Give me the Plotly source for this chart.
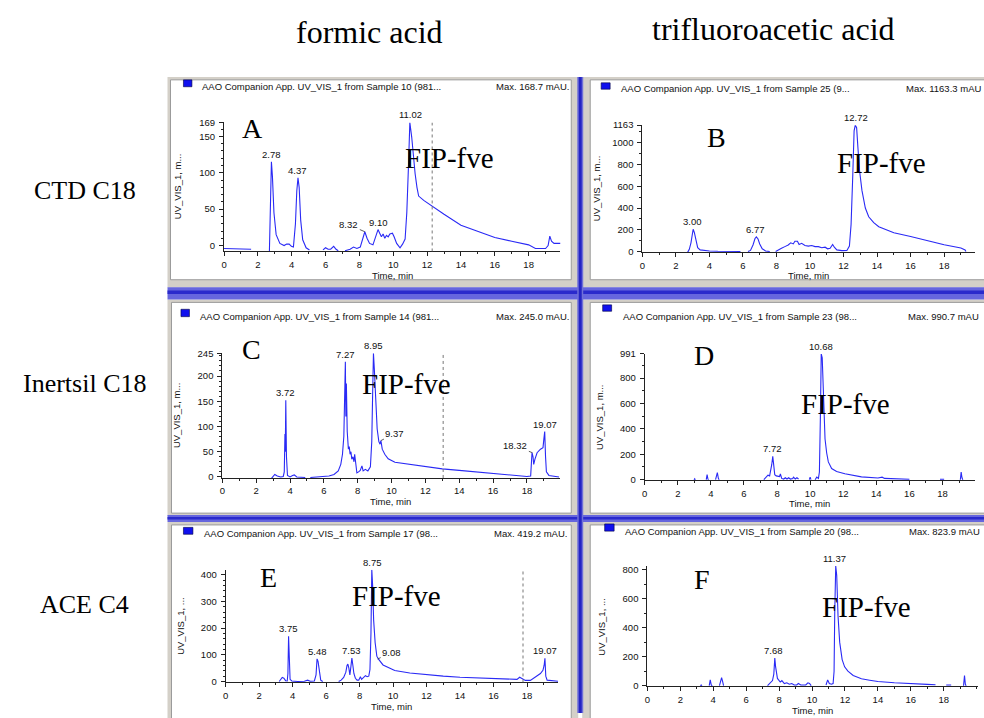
import plotly.graph_objects as go

W, H = 984, 718
SANS = "Liberation Sans, Arial, sans-serif"
SERIF = "Liberation Serif, Times New Roman, serif"
TRACE = "#2a2af5"

# ---------------- data ----------------
column_titles = ["formic acid", "trifluoroacetic acid"]
row_labels = ["CTD C18", "Inertsil C18", "ACE C4"]
panel_letters = ["A", "B", "C", "D", "E", "F"]
sample_ids = ["10 (981...", "25 (9...", "14 (981...", "23 (98...", "17 (98...", "20 (98..."]
max_text = ["Max. 168.7 mAU.", "Max. 1163.3 mAU", "Max. 245.0 mAU.",
            "Max. 990.7 mAU", "Max. 419.2 mAU.", "Max. 823.9 mAU"]
x_ticks = [0, 2, 4, 6, 8, 10, 12, 14, 16, 18]
a_yticks = [0, 50, 100, 150, 169]
b_yticks = [0, 200, 400, 600, 800, 1000, 1163]
c_yticks = [0, 50, 100, 150, 200, 245]
d_yticks = [0, 200, 400, 600, 800, 991]
e_yticks = [0, 100, 200, 300, 400]
f_yticks = [0, 200, 400, 600, 800]

a_time = [0.0, 0.8, 1.6, None, 2.68, 2.72, 2.76, 2.80, 2.86, 2.95,
          3.08, 3.30, 3.55, 3.70, 3.85, 3.98, 4.10, 4.22, 4.30, 4.37,
          4.44, 4.53, 4.65, 4.85, 5.05, None, 5.85, 6.00, 6.15, 6.30,
          6.48, 6.62, 6.75, None, 7.15, 7.45, 7.65, 7.85, 8.05, 8.20,
          8.32, 8.45, 8.60, 8.80, 8.95, 9.10, 9.20, 9.30, 9.40, 9.50,
          9.60, 9.70, 9.80, 9.95, 10.05, 10.20, 10.40, 10.55, 10.70, 10.80,
          10.90, 10.98, 11.09, 11.20, 11.29, 11.40, 11.50, 11.80, 12.10, 12.40,
          13.00, 14.00, 15.00, 16.00, 17.00, 18.00, 18.40, 19.00, 19.15, 19.25,
          19.35, 19.50, 19.90]
a_mau = [-4, -4, -5, None, -9, 40, 112, 115, 95, 45,
         15, 3, 0, 2, 2, -1, -2, 30, 75, 93,
         80, 35, 8, -3, -6, None, -6, -3, -5, -5,
         -1, -5, -7, None, -7, -5, -2, -4, -2, 10,
         19, 10, 3, 1, 12, 22, 17, 12, 16, 10,
         14, 12, 16, 17, 12, 3, -3, 2, 9, 45,
         110, 169, 149, 120, 99, 80, 68, 62, 57, 52,
         43, 28, 19, 11, 6, 1, -4, -4, 0, 13,
         6, 3, 3]

b_time = [2.70, 2.80, 2.90, 2.97, 3.03, 3.10, 3.20, 3.30, 3.45, 3.70,
          4.00, 4.50, 5.00, 5.50, 5.85, None, 6.30, 6.45, 6.60, 6.72,
          6.80, 6.90, 7.00, 7.15, 7.35, 7.60, None, 7.95, 8.10, 8.30,
          8.50, 8.70, 8.85, 9.00, 9.10, 9.25, 9.35, 9.50, 9.70, 9.90,
          10.10, 10.30, 10.50, 10.70, 10.90, 11.05, 11.20, 11.35, 11.45, 11.60,
          11.90, 12.20, 12.35, 12.45, 12.55, 12.63, 12.70, 12.78, 12.86, 12.95,
          13.10, 13.30, 13.50, 13.80, 14.10, 15.00, 16.00, 17.00, 18.00, 19.00,
          19.25, 19.30]
b_mau = [-8, 20, 80, 180, 205, 175, 90, 35, 15, 8,
         5, 2, 1, 0, 0, None, 0, 10, 60, 120,
         135, 115, 70, 25, 5, 0, None, 0, 15, 30,
         45, 60, 80, 70, 95, 95, 65, 75, 55, 50,
         55, 45, 45, 35, 40, 25, 30, 65, 40, 15,
         8, 10, 50, 250, 700, 1110, 1163, 1140, 950, 750,
         560, 400, 320, 265, 228, 172, 138, 100, 62, 32,
         15, 0]

c_time = [2.90, 3.00, 3.10, 3.25, 3.45, 3.60, 3.66, 3.70, 3.72, 3.75,
          3.79, 3.85, 4.00, 4.15, 4.25, 4.40, 4.90, None, 5.20, 5.60,
          6.00, 6.30, 6.60, 6.85, 7.00, 7.10, 7.18, 7.22, 7.27, 7.30,
          7.33, 7.38, 7.45, 7.50, 7.55, 7.60, 7.65, 7.72, 7.78, 7.82,
          7.88, 7.95, 8.05, 8.15, 8.25, 8.32, 8.45, 8.60, 8.75, 8.83,
          8.88, 8.93, 8.98, 9.05, 9.15, 9.25, 9.32, 9.37, 9.45, 9.60,
          9.80, 10.20, 11.00, 12.00, 13.00, 14.00, 15.00, 16.00, 17.00, 18.00,
          18.22, 18.27, 18.30, 18.36, 18.40, 18.47, 18.60, 18.80, 18.95, 19.00,
          19.05, 19.10, 19.15, 19.30, 19.60, 19.90]
c_mau = [-3, 2, 5, 2, 0, 1, 10, 85, 50, 152,
         40, 3, 0, 3, 4, 0, -1, None, -1, 0,
         1, 2, 5, 12, 25, 45, 80, 150, 228, 120,
         185, 90, 55, 60, 45, 50, 35, 40, 30, 45,
         20, 8, 10, 13, 22, 12, 15, 12, 20, 70,
         160, 245, 215, 150, 95, 70, 65, 72, 55, 45,
         36, 29, 25, 20, 16, 13, 10, 8, 4, 1,
         2, 30, 48, 40, 25, 35, 48, 55, 58, 75,
         90, 40, 10, 3, 1, 0]

d_time = [2.98, 3.02, 3.06, None, 3.72, 3.77, 3.82, 3.86, None, 4.28,
          4.34, 4.39, 4.45, 4.50, None, 7.20, 7.35, 7.45, 7.55, 7.62,
          7.68, 7.74, 7.79, 7.86, 7.95, 8.05, 8.15, 8.20, 8.28, 8.40,
          8.50, 8.60, 8.70, 8.80, 8.95, 9.00, 9.10, 9.20, 9.30, None,
          9.95, 10.00, 10.05, None, 10.30, 10.40, 10.50, 10.56, 10.62, 10.67,
          10.73, 10.80, 10.90, 11.00, 11.10, 11.30, 11.60, 12.10, 13.10, 14.10,
          14.25, 14.35, 14.50, 15.00, 15.50, 16.00, None, 17.85, 18.10, None,
          19.08, 19.13, 19.18, 19.23]
d_mau = [0, 8, 0, None, 0, 40, 5, 0, None, 0,
         50, 55, 10, 0, None, 0, 25, 35, 30, 70,
         120, 185, 110, 40, 30, 25, 25, 45, 10, 5,
         15, 5, 15, 5, 10, 20, 5, 15, 5, None,
         0, 20, 0, None, 0, 20, 10, 60, 500, 991,
         960, 650, 320, 210, 140, 88, 65, 47, 22, 13,
         15, 20, 10, 8, 5, 3, None, 3, 3, None,
         0, 60, 15, 0]

e_time = [3.20, 3.30, 3.38, 3.48, 3.58, 3.68, 3.72, 3.76, 3.80, 3.85,
          3.95, 4.30, 4.70, 4.90, 5.05, 5.30, 5.40, 5.46, 5.52, 5.60,
          5.68, 5.80, None, 6.75, 6.90, 7.05, 7.18, 7.25, 7.30, 7.36,
          7.42, 7.48, 7.54, 7.60, 7.66, 7.75, 7.85, 7.95, 8.05, 8.12,
          8.20, 8.35, 8.45, 8.55, 8.62, 8.68, 8.73, 8.78, 8.84, 8.93,
          9.03, 9.13, 9.40, 9.70, 10.10, 11.00, 12.00, 13.00, 14.00, 15.00,
          15.60, 15.70, 16.00, 17.00, 17.40, 17.56, 17.75, 17.90, 18.20, 18.45,
          18.80, 18.95, 19.02, 19.07, 19.12, 19.20, 19.50, 19.85]
e_mau = [0, 8, 15, 12, 3, 2, 30, 170, 60, 8,
         2, 0, 1, 5, 1, 2, 25, 85, 75, 30,
         5, 0, None, 0, 5, 15, 35, 60, 65, 50,
         25, 55, 88, 60, 30, 12, 5, 5, 18, 8,
         12, 22, 18, 20, 45, 180, 419, 360, 230, 145,
         95, 84, 62, 52, 41, 32, 25, 20, 16, 13,
         11, 13, 10, 7, 8, 16, 8, 4, 4, 16,
         30, 42, 60, 87, 20, 5, 3, 1]

f_time = [3.22, 3.27, 3.32, None, 3.76, 3.82, 3.88, 3.94, None, 4.38,
          4.45, 4.51, 4.57, 4.63, None, 7.30, 7.45, 7.60, 7.68, 7.74,
          7.79, 7.84, 7.90, 7.97, 8.07, 8.17, 8.32, 8.47, 8.62, 8.77,
          8.92, 9.07, 9.17, 9.32, 9.62, 9.75, 9.85, 9.95, None, 10.85,
          10.95, 11.05, 11.18, 11.28, 11.34, 11.38, 11.44, 11.50, 11.58, 11.68,
          11.83, 11.98, 12.18, 12.50, 13.00, 13.50, 14.00, 15.00, 15.70, 16.00,
          17.00, 17.50, None, 18.15, 18.45, None, 19.20, 19.26, 19.31, 19.36]
f_mau = [0, 5, 0, None, 0, 40, 5, 0, None, 0,
         30, 55, 30, 0, None, 0, 15, 35, 80, 190,
         130, 90, 50, 40, 25, 35, 15, 20, 10, 15,
         5, 5, 15, 5, 5, 20, 15, 0, None, 5,
         40, 15, 10, 15, 100, 500, 824, 760, 480, 300,
         180, 130, 100, 70, 48, 38, 29, 20, 15, 12,
         9, 7, None, 5, 5, None, 0, 70, 10, 0]

a_peak_time = [2.78, 4.37, 8.32, 9.10, 11.02]
a_peak_mau = [115, 93, 19, 22, 169]
b_peak_time = [3.00, 6.77, 12.72]
b_peak_mau = [205, 135, 1163]
c_peak_time = [3.72, 7.27, 8.95, 9.37, 18.32, 19.07]
c_peak_mau = [152, 228, 245, 72, 48, 90]
d_peak_time = [7.72, 10.68]
d_peak_mau = [185, 991]
e_peak_time = [3.75, 5.48, 7.53, 8.75, 9.08, 19.07]
e_peak_mau = [170, 85, 88, 419, 84, 87]
f_peak_time = [7.68, 11.37]
f_peak_mau = [190, 824]

cut_time = [12.30, None, 13.05, None, 17.76, None]   # dotted vertical markers
inject_mau = [17, 114, 24, 98, 44, 81]               # injection arrow level

series = [
    (a_time, a_mau, a_peak_time, a_peak_mau, a_yticks),
    (b_time, b_mau, b_peak_time, b_peak_mau, b_yticks),
    (c_time, c_mau, c_peak_time, c_peak_mau, c_yticks),
    (d_time, d_mau, d_peak_time, d_peak_mau, d_yticks),
    (e_time, e_mau, e_peak_time, e_peak_mau, e_yticks),
    (f_time, f_mau, f_peak_time, f_peak_mau, f_yticks),
]
for s in series:
    assert len(s[0]) == len(s[1]) and len(s[2]) == len(s[3])

# ---------------- geometry (pixels) ----------------
geo = [
    dict(x=(221.7, 559.0), y=(118.3, 249.3), xr=19.87, yr=(-8.1, 169), ymin=10,
         cell=(165, 72, 577, 286), inset=(3, 3, 7, 8), sq=(181, 75, 189.5, 82), hx=198, hy=81.5,
         mx=570, manchor="right", letter=(250, 124), fip=(448, 154), ytitle="UV_VIS_1, m..."),
    dict(x=(641.3, 975.3), y=(121.0, 250.0), xr=19.86, yr=(-6, 1163), ymin=100,
         cell=(581, 72, 1000, 286), inset=(8, 3, 7, 8), sq=(600, 78, 609, 84.5), hx=618, hy=84,
         mx=904, manchor="left", letter=(716, 134), fip=(881, 159), ytitle="UV_VIS_1, m..."),
    dict(x=(220.0, 558.3), y=(352.7, 479.3), xr=19.93, yr=(-2, 245), ymin=10,
         cell=(165, 298, 577, 518), inset=(4, 3, 7, 3), sq=(178.5, 308, 187, 315.5), hx=196, hy=315,
         mx=570, manchor="right", letter=(249, 349), fip=(405, 384), ytitle="UV_VIS_1, m..."),
    dict(x=(643.7, 974.7), y=(353.3, 481.7), xr=19.95, yr=(-5, 991), ymin=100,
         cell=(581, 298, 1000, 518), inset=(8, 3, 7, 3), sq=(601.5, 303.5, 610.5, 310), hx=620, hy=315,
         mx=906, manchor="left", letter=(703, 355), fip=(845, 404), ytitle="UV_VIS_1, m..."),
    dict(x=(223.3, 556.7), y=(572.5, 687.0), xr=19.85, yr=(-3.7, 419), ymin=20,
         cell=(165, 524, 577, 730), inset=(4, 3, 7, 3), sq=(181, 529.5, 190.5, 536.5), hx=200, hy=535.5,
         mx=568, manchor="right", letter=(266, 580), fip=(395, 599), ytitle="UV_VIS_1, ..."),
    dict(x=(646.3, 978.0), y=(568.8, 691.0), xr=20.08, yr=(-5, 824), ymin=100,
         cell=(581, 524, 1000, 730), inset=(8, 3, 7, 3), sq=(603.5, 526, 613, 533.3), hx=622, hy=533.3,
         mx=907, manchor="left", letter=(701, 582), fip=(866, 610), ytitle="UV_VIS_1, ..."),
]
leaders = {(0, 8.32): (-16, -7), (2, 9.37): (14, -7), (2, 18.32): (-17, -7), (4, 9.08): (14, -7)}


def X(p):
    return p / W


def Y(p):
    return 1 - p / H


fig = go.Figure()
shapes, annotations, axes = [], [], {}

# panel frames
for g in geo:
    x0, y0, x1, y1 = g["cell"]
    l, t, r, b = g["inset"]
    shapes.append(dict(type="rect", xref="paper", yref="paper", layer="below",
                       x0=X(x0), x1=X(x1), y0=Y(y1), y1=Y(y0),
                       fillcolor="#d4d0c8", line=dict(width=0)))
    shapes.append(dict(type="rect", xref="paper", yref="paper", layer="below",
                       x0=X(x0 + l), x1=X(x1 - r), y0=Y(y1 - b), y1=Y(y0 + t),
                       fillcolor="white", line=dict(color="#9a9a9a", width=1)))

# blue window separators
for (ya, yb, yc, yd) in [(285.5, 298, 289, 292.5), (517, 524, 519, 521.5)]:
    shapes.append(dict(type="rect", xref="paper", yref="paper", layer="below",
                       x0=X(165), x1=X(984), y0=Y(yb), y1=Y(ya),
                       fillcolor="#6666de", line=dict(width=0)))
    shapes.append(dict(type="rect", xref="paper", yref="paper", layer="below",
                       x0=X(165), x1=X(984), y0=Y(yd), y1=Y(yc),
                       fillcolor="#2a2acc", line=dict(width=0)))
shapes.append(dict(type="rect", xref="paper", yref="paper", layer="below",
                   x0=X(576), x1=X(582), y0=Y(718), y1=Y(72),
                   fillcolor="#7070d8", line=dict(width=0)))
shapes.append(dict(type="rect", xref="paper", yref="paper", layer="below",
                   x0=X(577.5), x1=X(580.5), y0=Y(718), y1=Y(72),
                   fillcolor="#2424c4", line=dict(width=0)))

small = dict(family=SANS, size=9.5, color="#111111")

for i, ((tt, vv, pt, pv, yt), g) in enumerate(zip(series, geo)):
    xn = "x" if i == 0 else f"x{i + 1}"
    yn = "y" if i == 0 else f"y{i + 1}"
    xk = "xaxis" if i == 0 else f"xaxis{i + 1}"
    yk = "yaxis" if i == 0 else f"yaxis{i + 1}"

    fig.add_trace(go.Scatter(x=tt, y=vv, mode="lines", xaxis=xn, yaxis=yn,
                             line=dict(color=TRACE, width=1.1), connectgaps=False,
                             hoverinfo="skip", showlegend=False))
    fig.add_trace(go.Scatter(x=[-0.1], y=[inject_mau[i]], mode="markers", xaxis=xn, yaxis=yn,
                             marker=dict(symbol="triangle-right", size=7, color="#1414dc"),
                             cliponaxis=False, hoverinfo="skip", showlegend=False))

    axes[xk] = dict(domain=[X(g["x"][0]), X(g["x"][1])], range=[0, g["xr"]], anchor=yn,
                    showline=True, linecolor="#222", linewidth=1, ticks="outside", ticklen=4,
                    tickcolor="#222", tickmode="array", tickvals=x_ticks, tickfont=small,
                    showgrid=False, zeroline=False, fixedrange=True,
                    minor=dict(tickmode="linear", tick0=0, dtick=1, ticks="outside",
                               ticklen=2, tickcolor="#222", showgrid=False))
    axes[yk] = dict(domain=[Y(g["y"][1]), Y(g["y"][0])], range=list(g["yr"]), anchor=xn,
                    showline=True, linecolor="#222", linewidth=1, ticks="outside", ticklen=4,
                    tickcolor="#222", tickmode="array", tickvals=yt, tickfont=small,
                    showgrid=False, zeroline=False, fixedrange=True, ticklabelstandoff=2,
                    minor=dict(tickmode="linear", tick0=0, dtick=g["ymin"], ticks="outside",
                               ticklen=2, tickcolor="#222", showgrid=False))

    if cut_time[i] is not None:
        shapes.append(dict(type="line", xref=xn, yref=yn, x0=cut_time[i], x1=cut_time[i],
                           y0=g["yr"][0], y1=g["yr"][1], line=dict(color="#777", width=1, dash="dot")))

    # header
    sx0, sy0, sx1, sy1 = g["sq"]
    shapes.append(dict(type="rect", xref="paper", yref="paper", x0=X(sx0), x1=X(sx1),
                       y0=Y(sy1), y1=Y(sy0), fillcolor="#1010ee", line=dict(color="#000040", width=0.6)))
    annotations.append(dict(xref="paper", yref="paper", x=X(g["hx"]), y=Y(g["hy"]),
                            xanchor="left", yanchor="middle", showarrow=False, font=small,
                            text="AAO Companion App. UV_VIS_1 from Sample " + sample_ids[i]))
    annotations.append(dict(xref="paper", yref="paper", x=X(g["mx"]), y=Y(g["hy"]),
                            xanchor=g["manchor"], yanchor="middle", showarrow=False, font=small,
                            text=max_text[i]))
    # axis titles
    annotations.append(dict(xref="paper", yref="paper", x=X((g["x"][0] + g["x"][1]) / 2),
                            y=Y(g["y"][1] + 24), xanchor="center", yanchor="middle",
                            showarrow=False, font=small, text="Time, min"))
    annotations.append(dict(xref="paper", yref="paper", x=X(g["x"][0] - 46),
                            y=Y((g["y"][0] + g["y"][1]) / 2), xanchor="center", yanchor="middle",
                            showarrow=False, textangle=-90, font=small, text=g["ytitle"]))
    # panel letter and compound label
    annotations.append(dict(xref="paper", yref="paper", x=X(g["letter"][0]), y=Y(g["letter"][1]),
                            xanchor="center", yanchor="middle", showarrow=False,
                            font=dict(family=SERIF, size=28, color="black"), text=panel_letters[i]))
    annotations.append(dict(xref="paper", yref="paper", x=X(g["fip"][0]), y=Y(g["fip"][1]),
                            xanchor="center", yanchor="middle", showarrow=False,
                            font=dict(family=SERIF, size=29, color="black"), text="FIP-fve"))
    # peak labels
    for t, v in zip(pt, pv):
        key = (i, t)
        if key in leaders:
            ax, ay = leaders[key]
            annotations.append(dict(xref=xn, yref=yn, x=t, y=v, text=f"{t:.2f}", font=small,
                                    showarrow=True, arrowhead=0, arrowwidth=0.8, arrowcolor="#333",
                                    ax=ax, ay=ay, standoff=0, startstandoff=0))
        else:
            annotations.append(dict(xref=xn, yref=yn, x=t, y=v, text=f"{t:.2f}", font=small,
                                    showarrow=False, yanchor="bottom", yshift=0))

# column and row titles
for txt, cx, cy in zip(column_titles, [368, 773], [26, 23]):
    annotations.append(dict(xref="paper", yref="paper", x=X(cx), y=Y(cy), xanchor="center",
                            yanchor="middle", showarrow=False,
                            font=dict(family=SERIF, size=32, color="black"), text=txt))
for txt, cy in zip(row_labels, [187, 383, 608]):
    annotations.append(dict(xref="paper", yref="paper", x=X(82), y=Y(cy), xanchor="center",
                            yanchor="middle", showarrow=False,
                            font=dict(family=SERIF, size=26, color="black"), text=txt))

fig.update_layout(width=W, height=H, margin=dict(l=0, r=0, t=0, b=0),
                  paper_bgcolor="white", plot_bgcolor="rgba(0,0,0,0)",
                  shapes=shapes, annotations=annotations, showlegend=False, **axes)
fig.write_html("out.html", config={"displayModeBar": False},
               post_script="document.body.style.margin='0';document.body.style.overflow='hidden';")
